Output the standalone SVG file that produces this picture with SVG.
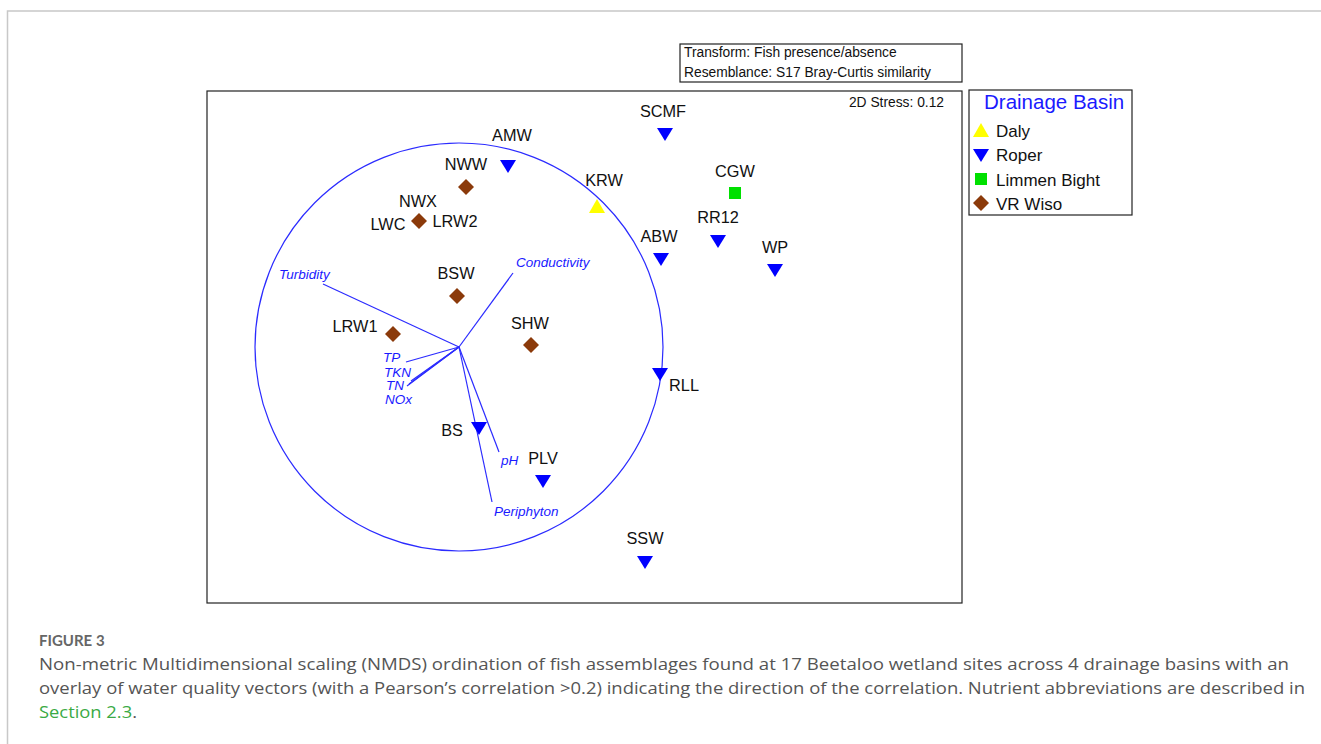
<svg xmlns="http://www.w3.org/2000/svg" width="1321" height="744" viewBox="0 0 1321 744">
<defs>
<style>
.lab{font-family:"Liberation Sans",Arial,sans-serif;font-size:16.3px;fill:#111;text-anchor:middle}
.vec{font-family:"Liberation Sans",Arial,sans-serif;font-size:13.5px;font-style:italic;fill:#1a1aff}
.vl{stroke:#2b2bff;stroke-width:1.2;fill:none}
.box{fill:#fff;stroke:#222;stroke-width:1.2}
.sm{font-family:"Liberation Sans",Arial,sans-serif;font-size:13.8px;fill:#111}
.leg{font-family:"Liberation Sans",Arial,sans-serif;font-size:17px;fill:#111}
.cap{font-family:"Open Sans",Lato,sans-serif;font-size:16.5px;fill:#555}
</style>
<path id="rop" d="M-8,-6 L8,-6 L0,7 Z" fill="#0000ff"/>
<path id="vr" d="M0,-8 L8,0 L0,8 L-8,0 Z" fill="#8b3a0a"/>
</defs>
<rect width="1321" height="744" fill="#fff"/>
<path d="M7.5,744 V11 H1321" fill="none" stroke="#c8c8c8" stroke-width="1.5"/>

<rect class="box" x="207" y="91" width="755" height="512"/>
<text class="sm" x="944" y="107" text-anchor="end">2D Stress:  0.12</text>

<g id="transform-box">
<rect class="box" x="680" y="44" width="282" height="38"/>
<text class="sm" x="684" y="57">Transform:  Fish presence/absence</text>
<text class="sm" x="684" y="77">Resemblance:  S17 Bray-Curtis similarity</text>
</g>

<g id="legend">
<rect class="box" x="969" y="90" width="163" height="125"/>
<text x="984" y="109" font-family="Liberation Sans, Arial, sans-serif" font-size="20.5" fill="#1a1aff">Drainage Basin</text>
<path d="M973,137 L989,137 L981,123 Z" fill="#ffff00"/>
<text class="leg" x="996" y="137">Daly</text>
<use href="#rop" x="981" y="155"/>
<text class="leg" x="996" y="161">Roper</text>
<rect x="975" y="173" width="12" height="12" fill="#00e000"/>
<text class="leg" x="996" y="186">Limmen  Bight</text>
<use href="#vr" x="981" y="203"/>
<text class="leg" x="996" y="210">VR Wiso</text>
</g>

<g id="connectors">
<circle class="vl" cx="459" cy="347" r="204"/>
<line class="vl" x1="459" y1="347" x2="323" y2="284"/>
<line class="vl" x1="459" y1="347" x2="513" y2="273"/>
<line class="vl" x1="459" y1="347" x2="406" y2="362"/>
<line class="vl" x1="459" y1="347" x2="411" y2="381"/>
<line class="vl" x1="459" y1="347" x2="407" y2="386"/>
<line class="vl" x1="459" y1="347" x2="409" y2="384"/>
<line class="vl" x1="459" y1="347" x2="499" y2="452"/>
<line class="vl" x1="459" y1="347" x2="492" y2="502"/>
</g>

<g id="vector-labels">
<text class="vec" x="279" y="279">Turbidity</text>
<text class="vec" x="516" y="267">Conductivity</text>
<text class="vec" x="383" y="362">TP</text>
<text class="vec" x="384" y="377">TKN</text>
<text class="vec" x="386" y="390">TN</text>
<text class="vec" x="385" y="404">NOx</text>
<text class="vec" x="501" y="465">pH</text>
<text class="vec" x="494" y="516">Periphyton</text>
</g>

<g id="SCMF"><use href="#rop" x="665" y="134"/><text class="lab" x="663" y="117">SCMF</text></g>
<g id="AMW"><use href="#rop" x="508" y="166"/><text class="lab" x="512" y="141">AMW</text></g>
<g id="NWW"><use href="#vr" x="466" y="187"/><text class="lab" x="466" y="170">NWW</text></g>
<g id="NWX"><text class="lab" x="418" y="207">NWX</text></g>
<g id="LWC"><text class="lab" x="388" y="230">LWC</text></g>
<g id="LRW2"><use href="#vr" x="419" y="221"/><text class="lab" x="455" y="227">LRW2</text></g>
<g id="KRW"><path d="M589,213 L605,213 L597,199 Z" fill="#ffff00"/><text class="lab" x="604" y="186">KRW</text></g>
<g id="CGW"><rect x="729" y="187" width="12" height="12" fill="#00e000"/><text class="lab" x="735" y="177">CGW</text></g>
<g id="RR12"><use href="#rop" x="718" y="241"/><text class="lab" x="718" y="223">RR12</text></g>
<g id="ABW"><use href="#rop" x="661" y="259"/><text class="lab" x="659" y="242">ABW</text></g>
<g id="WP"><use href="#rop" x="775" y="270"/><text class="lab" x="775" y="253">WP</text></g>
<g id="BSW"><use href="#vr" x="457" y="296"/><text class="lab" x="456" y="279">BSW</text></g>
<g id="LRW1"><use href="#vr" x="393" y="334"/><text class="lab" x="355" y="332">LRW1</text></g>
<g id="SHW"><use href="#vr" x="531" y="345"/><text class="lab" x="530" y="329">SHW</text></g>
<g id="RLL"><use href="#rop" x="660" y="374"/><text class="lab" x="684" y="391">RLL</text></g>
<g id="BS"><use href="#rop" x="479" y="428"/><text class="lab" x="452" y="436">BS</text></g>
<g id="PLV"><use href="#rop" x="543" y="481"/><text class="lab" x="543" y="464">PLV</text></g>
<g id="SSW"><use href="#rop" x="645" y="562"/><text class="lab" x="645" y="544">SSW</text></g>

<g id="caption">
<text x="39" y="646" font-family="Lato, 'Open Sans', sans-serif" font-size="15" font-weight="bold" fill="#666">FIGURE 3</text>
<text class="cap" x="39" y="670" textLength="1250" lengthAdjust="spacingAndGlyphs">Non-metric Multidimensional scaling (NMDS) ordination of fish assemblages found at 17 Beetaloo wetland sites across 4 drainage basins with an</text>
<text class="cap" x="39" y="694" textLength="1266" lengthAdjust="spacingAndGlyphs">overlay of water quality vectors (with a Pearson’s correlation &gt;0.2) indicating the direction of the correlation. Nutrient abbreviations are described in</text>
<text class="cap" x="39" y="718" textLength="98" lengthAdjust="spacingAndGlyphs"><tspan fill="#3aaa45">Section 2.3</tspan>.</text>
</g>
</svg>
